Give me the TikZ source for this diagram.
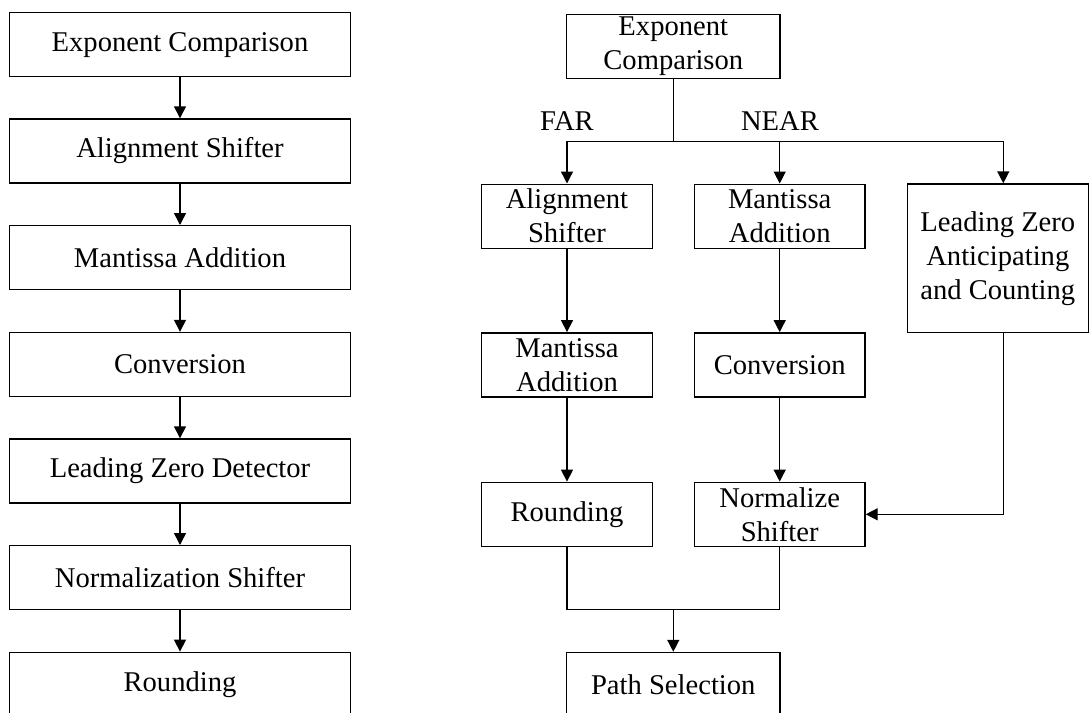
\documentclass[tikz,border=0pt]{standalone}
\usepackage{fontspec}
\setmainfont{Liberation Serif}
\usetikzlibrary{arrows.meta}
\begin{document}
\begin{tikzpicture}[x=0.5pt,y=-0.5pt,
  blk/.style={draw,line width=0.7pt,minimum height=32pt,inner sep=0pt,align=center,font=\fontsize{14.3}{17}\selectfont},
  lab/.style={anchor=base,font=\fontsize{14.3}{17}\selectfont},
  arr/.style={line width=0.7pt,-{Triangle[width=6pt,length=6pt]}},
  ln/.style={line width=0.7pt}]
\useasboundingbox (0,0) rectangle (1089,713);
\node[blk,minimum width=170.7pt] (l1) at (180,44.7) {Exponent Comparison};
\node[blk,minimum width=170.7pt] (l2) at (180,151) {Alignment Shifter};
\node[blk,minimum width=170.7pt] (l3) at (180,257.7) {Mantissa Addition};
\node[blk,minimum width=170.7pt] (l4) at (180,364.5) {Conversion};
\node[blk,minimum width=170.7pt] (l5) at (180,471) {Leading Zero Detector};
\node[blk,minimum width=170.7pt] (l6) at (180,577.7) {Normalization Shifter};
\node[blk,minimum width=170.7pt] (l7) at (180,684.3) {Rounding};
\foreach \a/\b in {l1/l2,l2/l3,l3/l4,l4/l5,l5/l6,l6/l7}
  \draw[arr] (\a) -- (\b);
\node[blk,minimum width=106.7pt] (ec) at (673.3,46.2) {Exponent\\Comparison};
\node[lab] (far) at (567,130) {FAR};
\node[lab] (near) at (780,130) {NEAR};
\node[blk,minimum width=85.3pt] (fas) at (567,216.2) {Alignment\\Shifter};
\node[blk,minimum width=85.3pt] (nma) at (779.7,216.2) {Mantissa\\Addition};
\node[blk,minimum width=90.5pt,minimum height=74.3pt] (lza) at (997.8,258.3) {Leading Zero\\Anticipating\\and Counting};
\node[blk,minimum width=85.3pt] (fma) at (567,364.8) {Mantissa\\Addition};
\node[blk,minimum width=85.3pt] (ncv) at (779.7,364.8) {Conversion};
\node[blk,minimum width=85.3pt] (frd) at (567,514.3) {Rounding};
\node[blk,minimum width=85.3pt] (nns) at (779.7,514.3) {Normalize\\Shifter};
\node[blk,minimum width=106.7pt] (ps) at (673.3,684.5) {Path Selection};
\coordinate (split) at (673.3,141.7);
\coordinate (lzx) at (1003.3,141.7);
\coordinate (merge) at (673.3,609.7);
\draw[ln] (ec) -- (split);
\draw[arr] (split) -| (fas);
\draw[arr] (split) -| (nma);
\draw[arr] (split) -- (lzx) -- (lzx |- lza.north);
\draw[arr] (fas) -- (fma);
\draw[arr] (fma) -- (frd);
\draw[arr] (nma) -- (ncv);
\draw[arr] (ncv) -- (nns);
\draw[arr] (lzx |- lza.south) |- (nns);
\draw[ln] (frd) |- (merge) -| (nns);
\draw[arr] (merge) -- (ps);
\end{tikzpicture}
\end{document}
